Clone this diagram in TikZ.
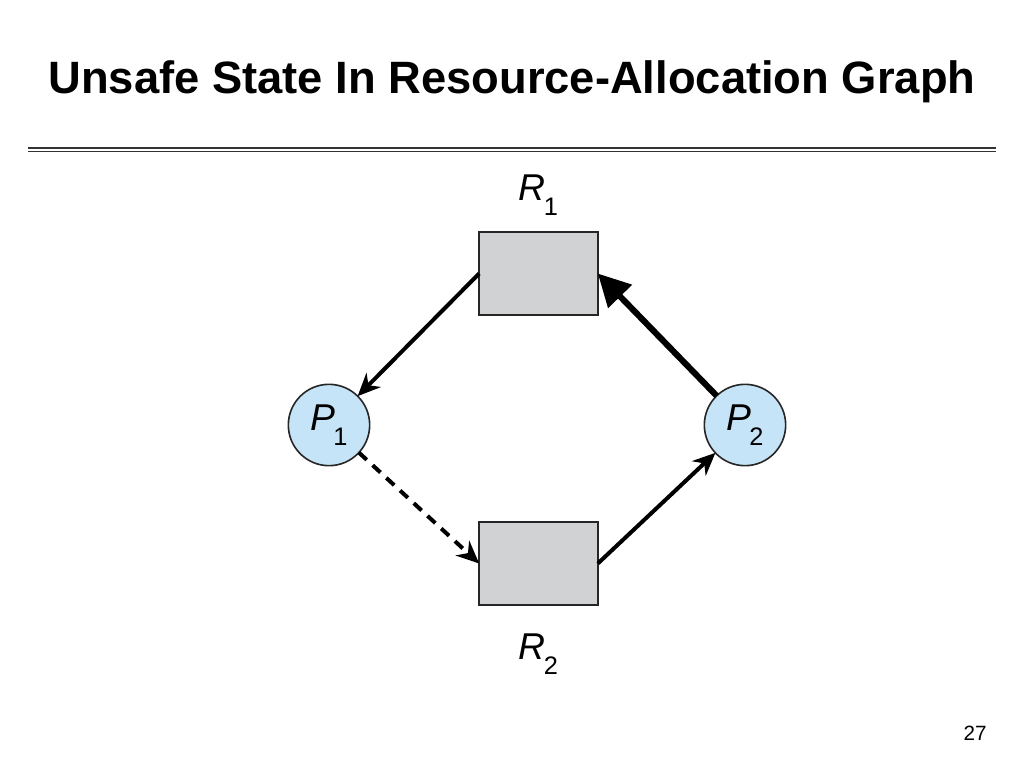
\documentclass[tikz,border=0pt]{standalone}
\usepackage{fontspec}
\setmainfont{Liberation Sans}
\usetikzlibrary{positioning}
\usetikzlibrary{arrows.meta}
\definecolor{boxgray}{RGB}{209,210,212}
\definecolor{procblue}{RGB}{198,228,247}
\newcommand{\lbl}[2]{\textit{#1}\kern-1.5pt\raisebox{-11pt}{\fontsize{19}{19}\selectfont #2}}
\tikzset{
	every node/.style={outer sep=0pt,inner sep=0pt},
	resource/.style={draw=black!85,fill=boxgray,line width=1.2pt,minimum width=89pt,minimum height=62pt},
	process/.style={circle,draw=black!85,fill=procblue,line width=1.2pt,minimum size=61pt},
	alloc/.style={line width=3pt,-{Stealth[length=17pt,width=15pt]}},
}

\begin{document}
\begin{tikzpicture}[x=0.75pt,y=-0.75pt]
	\useasboundingbox (0,0) rectangle (1024,768);

	% title..............................
	\node (title) [anchor=base] at (512,93) {\fontsize{34}{40}\selectfont\bfseries Unsafe State In Resource-Allocation Graph};
	\draw [line width=1.1pt,black!80] (28,148) to (996,148);
	\draw [line width=1.1pt,black!80] (28,151.5) to (996,151.5);

	% resources..........................
	\node [resource] (R1) at (538.5,273.5) {};
	\node [resource] (R2) at (538.5,563.5) {};
	\node [above=12.5pt of R1] (R1label) {\fontsize{28}{28}\selectfont\lbl{R}{1}};
	\node [below=22pt of R2] (R2label) {\fontsize{28}{28}\selectfont\lbl{R}{2}};

	% processes..........................
	\node [process] (P1) at (329,425) {\fontsize{28}{28}\selectfont\lbl{P}{1}};
	\node [process] (P2) at (745,425) {\fontsize{28}{28}\selectfont\lbl{P}{2}};

	% edges..............................
	\draw [alloc] (R1.west) to (P1);
	\draw [alloc,line width=4.6pt,-{Triangle[length=24pt,width=24pt]}] (P2) to (R1.east);
	\draw [alloc,dash pattern=on 8pt off 6pt] (P1) to (R2.west);
	\draw [alloc] (R2.east) to (P2);

	% page number........................
	\node (page) [anchor=base] at (975,740) {\fontsize{15.5}{18}\selectfont 27};
\end{tikzpicture}
\end{document}
